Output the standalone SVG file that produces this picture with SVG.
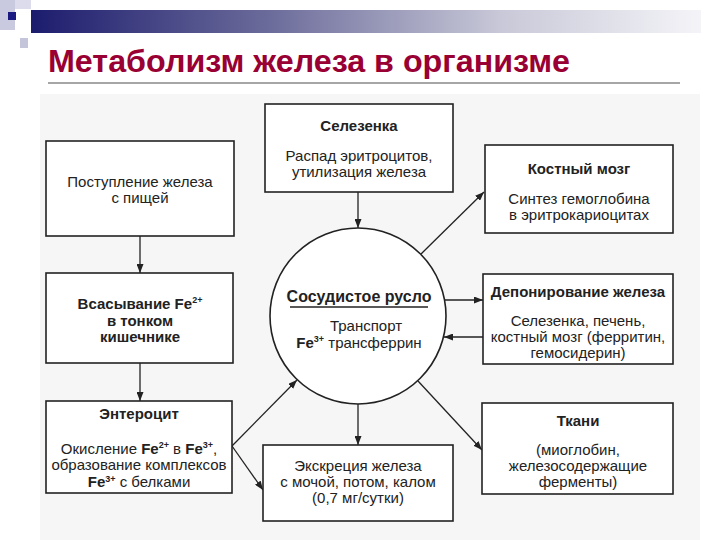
<svg xmlns="http://www.w3.org/2000/svg" width="720" height="540" viewBox="0 0 720 540">
<defs>
<linearGradient id="bar" x1="0" y1="0" x2="1" y2="0">
<stop offset="0" stop-color="#1c1c6e"/>
<stop offset="0.35" stop-color="#6a6a9a"/>
<stop offset="0.7" stop-color="#c8c8d8"/>
<stop offset="1" stop-color="#f4f4f8"/>
</linearGradient>
<marker id="arr" markerWidth="9" markerHeight="7" refX="9" refY="3.5" orient="auto" markerUnits="userSpaceOnUse">
<path d="M0,0 L9,3.5 L0,7 z" fill="#222"/>
</marker>
<style>
.box{fill:#fff;stroke:#222;stroke-width:1.6}
.t{font-family:"Liberation Sans",Arial,sans-serif;font-size:15px;fill:#222;text-anchor:middle}
.b{font-weight:bold}
.sup{font-size:9px}
.c{stroke:#222;stroke-width:1.3;fill:none;marker-end:url(#arr)}
</style>
</defs>
<rect width="720" height="540" fill="#fff"/>
<g id="header">
<rect x="0" y="0" width="15" height="30" fill="#c9c9e0"/>
<rect x="15" y="0" width="16" height="9" fill="#dcdcec"/>
<rect x="8" y="12" width="8" height="8" fill="#1a1a80"/>
<rect x="20" y="38" width="8" height="10" fill="#c4c4da"/>
<rect x="31" y="10" width="670" height="23" fill="url(#bar)"/>
<text x="48" y="72" font-family="'Liberation Sans',Arial,sans-serif" font-size="31" font-weight="bold" fill="#990033" textLength="522" lengthAdjust="spacingAndGlyphs">Метаболизм железа в организме</text>
<line x1="48" y1="83" x2="680" y2="83" stroke="#888" stroke-width="1.5"/>
</g>
<rect x="40" y="94" width="660" height="446" fill="#f6f6f6"/>
<g id="connectors">
<line class="c" x1="140" y1="236" x2="140" y2="273"/>
<line class="c" x1="140" y1="363" x2="140" y2="401"/>
<line class="c" x1="358" y1="192" x2="358" y2="228"/>
<line class="c" x1="421" y1="254" x2="484" y2="192"/>
<line class="c" x1="445" y1="300" x2="483" y2="300"/>
<line class="c" x1="483" y1="337" x2="444" y2="337"/>
<line class="c" x1="418" y1="381" x2="482" y2="450"/>
<line class="c" x1="358" y1="404" x2="358" y2="445"/>
<line class="c" x1="232" y1="446" x2="297" y2="380"/>
<line class="c" x1="232" y1="446" x2="263" y2="490"/>
</g>
<g id="food">
<rect class="box" x="46" y="141" width="188" height="95"/>
<text class="t" x="140" y="187">Поступление железа</text>
<text class="t" x="140" y="203">с  пищей</text>
</g>
<g id="absorption">
<rect class="box" x="46" y="273" width="187" height="90"/>
<text class="t b" x="140" y="309">Всасывание Fe<tspan class="sup" dy="-6">2+</tspan></text>
<text class="t b" x="140" y="326">в тонком</text>
<text class="t b" x="140" y="342">кишечнике</text>
</g>
<g id="enterocyte">
<rect class="box" x="46" y="401" width="186" height="92"/>
<text class="t b" x="139" y="419">Энтероцит</text>
<text class="t" x="139" y="454">Окисление <tspan class="b">Fe</tspan><tspan class="sup b" dy="-6">2+</tspan><tspan dy="6"> в </tspan><tspan class="b">Fe</tspan><tspan class="sup b" dy="-6">3+</tspan><tspan dy="6">,</tspan></text>
<text class="t" x="139" y="470">образование комплексов</text>
<text class="t" x="139" y="487"><tspan class="b">Fe</tspan><tspan class="sup b" dy="-5">3+</tspan><tspan dy="5">  с  белками</tspan></text>
</g>
<g id="spleen">
<rect class="box" x="265" y="104" width="188" height="88"/>
<text class="t b" x="359" y="131">Селезенка</text>
<text class="t" x="359" y="161">Распад эритроцитов,</text>
<text class="t" x="359" y="177">утилизация железа</text>
</g>
<g id="vessels">
<circle cx="358" cy="316" r="88" fill="#fff" stroke="#222" stroke-width="1.6"/>
<text class="t b" x="359" y="302" style="font-size:16px">Сосудистое русло</text>
<line x1="290" y1="307" x2="428" y2="307" stroke="#222" stroke-width="1.4"/>
<text class="t" x="366" y="331">Транспорт</text>
<text class="t" x="359" y="348"><tspan class="b">Fe</tspan><tspan class="sup b" dy="-6">3+</tspan><tspan dy="6"> трансферрин</tspan></text>
</g>
<g id="marrow">
<rect class="box" x="485" y="145" width="188" height="88"/>
<text class="t b" x="579" y="174">Костный мозг</text>
<text class="t" x="579" y="204">Синтез гемоглобина</text>
<text class="t" x="579" y="220">в эритрокариоцитах</text>
</g>
<g id="depot">
<rect class="box" x="483" y="274" width="190" height="90"/>
<text class="t b" x="578" y="297">Депонирование железа</text>
<text class="t" x="578" y="326">Селезенка, печень,</text>
<text class="t" x="578" y="342">костный мозг (ферритин,</text>
<text class="t" x="578" y="358">гемосидерин)</text>
</g>
<g id="tissues">
<rect class="box" x="482" y="403" width="191" height="91"/>
<text class="t b" x="578" y="426">Ткани</text>
<text class="t" x="578" y="455">(миоглобин,</text>
<text class="t" x="578" y="471">железосодержащие</text>
<text class="t" x="578" y="487">ферменты)</text>
</g>
<g id="excretion">
<rect class="box" x="263" y="445" width="190" height="76"/>
<text class="t" x="358" y="471">Экскреция железа</text>
<text class="t" x="358" y="487">с  мочой, потом, калом</text>
<text class="t" x="358" y="503">(0,7 мг/сутки)</text>
</g>
</svg>
